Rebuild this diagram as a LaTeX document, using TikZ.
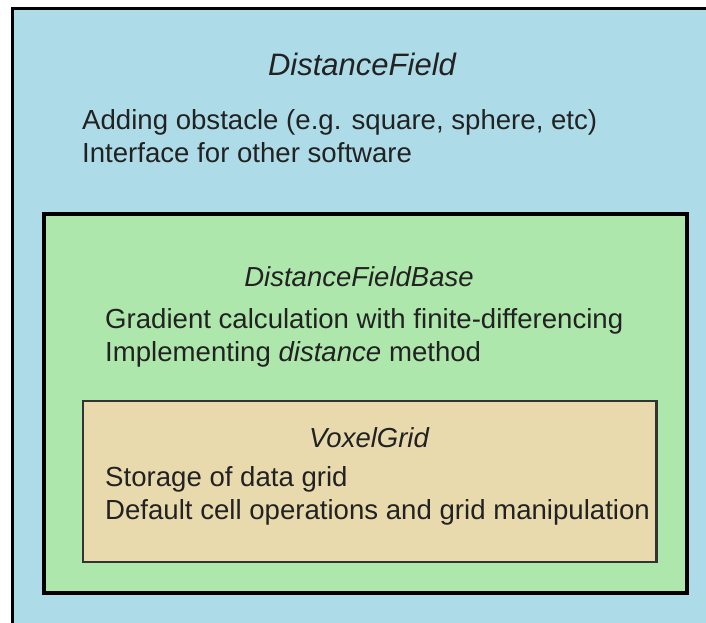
\documentclass[tikz,border=0pt]{standalone}
\usepackage{fontspec}
\setmainfont{Liberation Sans}
\definecolor{outerblue}{HTML}{ADDCE8}
\definecolor{midgreen}{HTML}{AEE7AC}
\definecolor{innertan}{HTML}{E9DAAE}
\definecolor{txt}{HTML}{222222}
\definecolor{tanline}{HTML}{333333}
\tikzset{
  layerbox/.style={line width=3.2pt, draw=black},
  titletext/.style={anchor=base, inner sep=0pt, text=txt, font=\fontsize{27.5}{33}\selectfont\itshape},
  bodytext/.style={anchor=base west, inner sep=0pt, text=txt, font=\fontsize{27.6}{33}\selectfont},
}
\begin{document}
\begin{tikzpicture}[x=1pt,y=-1pt]
\useasboundingbox (0,0) rectangle (706,623);
\begin{scope}
\clip (0,0) rectangle (706,623);
\draw[layerbox, fill=outerblue] (12.5,8.5) rectangle (730,650);
\end{scope}
\draw[layerbox, fill=midgreen] (44,214) rectangle (687,593);
\draw[line width=2.4pt, draw=tanline, fill=innertan] (83,401) rectangle (656.5,562);
\node[titletext, font=\fontsize{31}{33}\selectfont\itshape] (t1) at (362,76) {DistanceField};
\node[bodytext] (a1) at (82,129) {Adding obstacle (e.g. square, sphere, etc)};
\node[bodytext] (a2) at (82,162) {Interface for other software};
\node[titletext] (t2) at (359,286) {DistanceFieldBase};
\node[bodytext] (b1) at (105,328) {Gradient calculation with finite-differencing};
\node[bodytext] (b2) at (105,361) {Implementing \textit{distance} method};
\node[titletext] (t3) at (369,447) {VoxelGrid};
\node[bodytext] (c1) at (105,486) {Storage of data grid};
\node[bodytext] (c2) at (105,519) {Default cell operations and grid manipulation};
\end{tikzpicture}
\end{document}
